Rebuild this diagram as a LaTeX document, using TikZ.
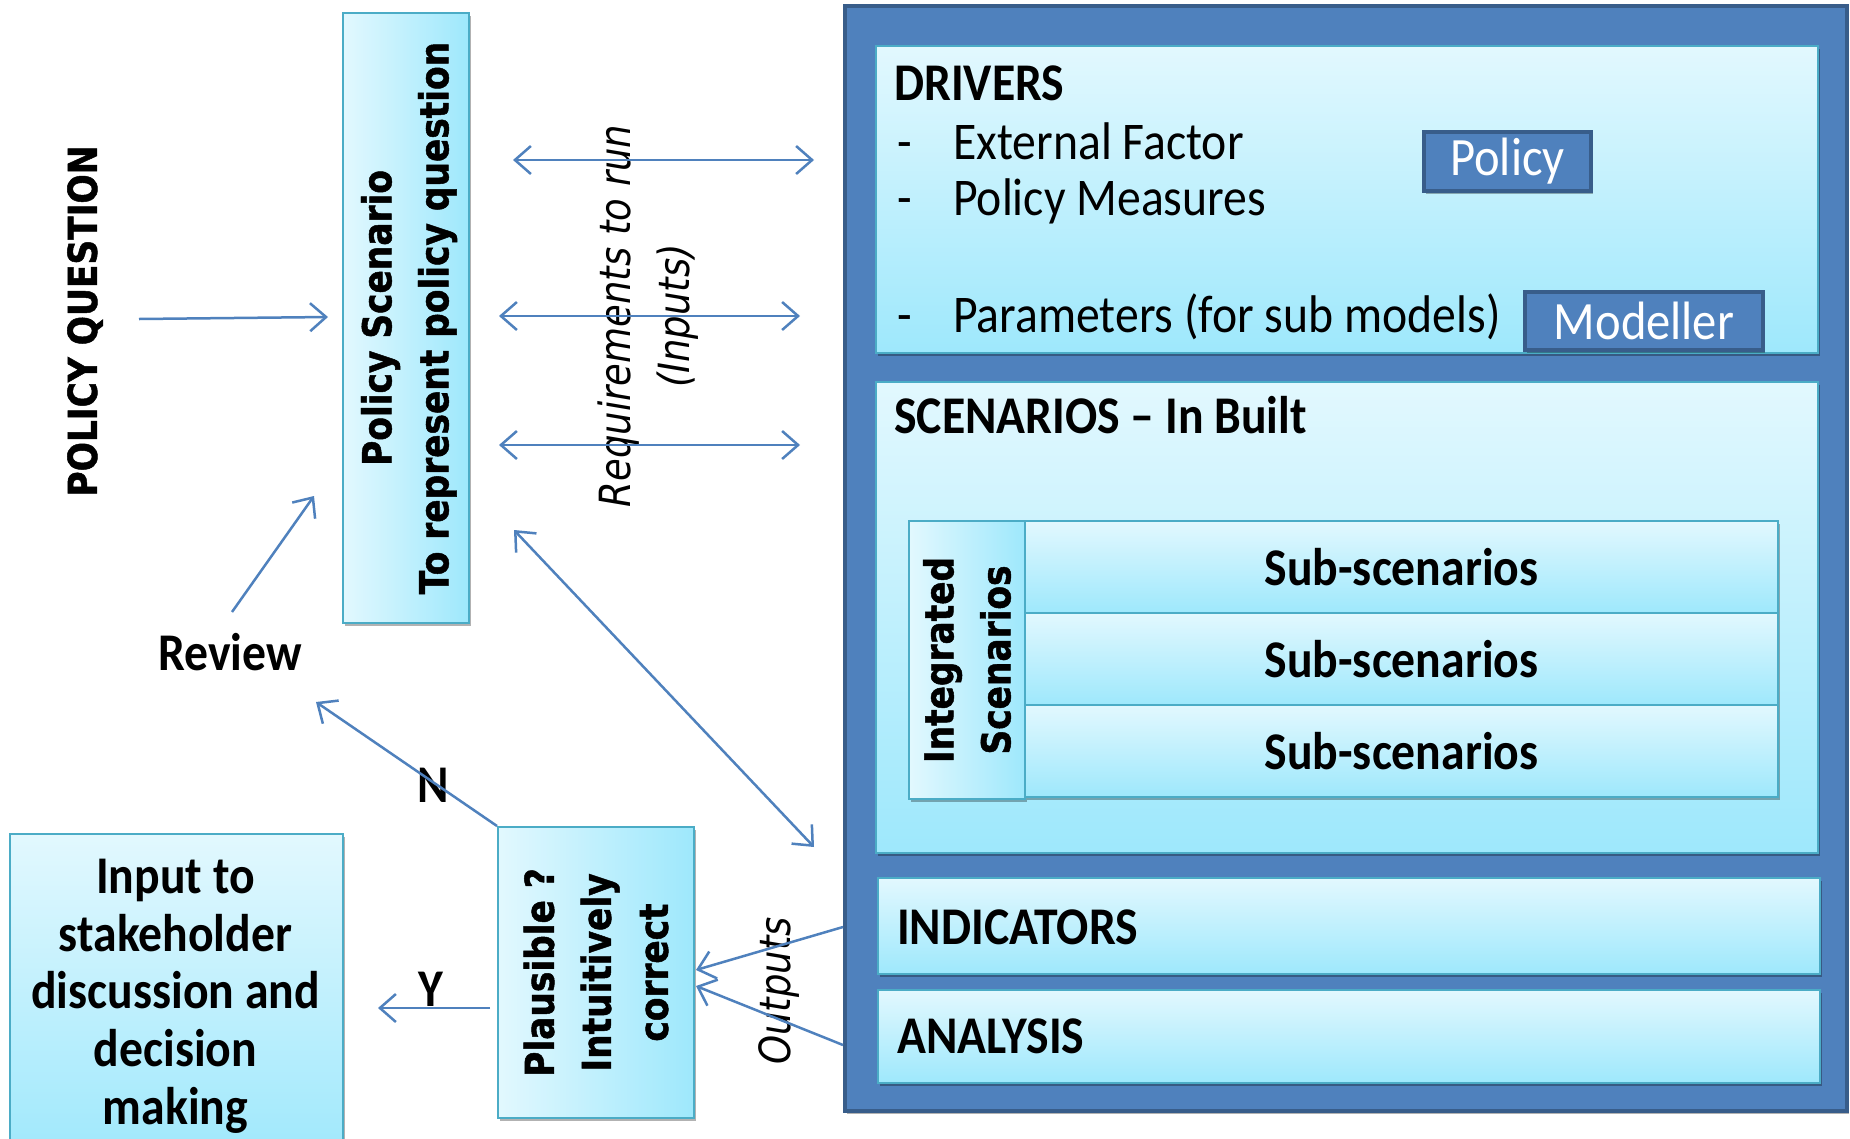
\documentclass[tikz,border=0pt]{standalone}
\usepackage{fontspec}
\setmainfont{Carlito}
\newfontfamily\calf[FakeStretch=0.9]{Carlito}
\newfontfamily\verf[FakeStretch=0.86]{DejaVu Sans}
\newfontfamily\verbf[FakeStretch=0.86,FakeBold=1.2]{DejaVu Sans Bold}
\usetikzlibrary{arrows.meta,shadows}
\definecolor{oblue}{RGB}{79,129,189}
\definecolor{oborder}{RGB}{56,93,138}
\definecolor{ltop}{RGB}{226,248,254}
\definecolor{lbot}{RGB}{158,232,252}
\definecolor{lborder}{RGB}{75,172,198}
\begin{document}
\begin{tikzpicture}[x=1pt,y=-1pt,
  shad/.style={drop shadow={shadow xshift=2pt,shadow yshift=-3pt,opacity=0.3,fill=black}},
  vbox/.style={draw=lborder,line width=2pt,top color=ltop,bottom color=lbot,inner sep=0pt,anchor=north west,shad},
  hbox/.style={draw=lborder,line width=2pt,left color=ltop,right color=lbot,inner sep=0pt,anchor=north west,shad},
  bluebox/.style={draw=oborder,line width=4pt,fill=oblue,inner sep=0pt,anchor=north west,text=white,font=\calf\fontsize{54}{58}\selectfont,shad},
  cal/.style={font=\calf\fontsize{53}{58}\selectfont,inner sep=0pt},
  calb/.style={font=\calf\bfseries\fontsize{53}{58}\selectfont,inner sep=0pt},
  verb/.style={font=\verbf\fontsize{40}{57}\selectfont,inner sep=0pt,rotate=90,align=center},
  veri/.style={font=\verf\itshape\fontsize{43}{59}\selectfont,inner sep=0pt,rotate=90,align=center},
  conn/.style={draw=oblue,line width=2.5pt,-{Straight Barb[length=16pt,width=28pt]}},
  dconn/.style={draw=oblue,line width=2.5pt,{Straight Barb[length=16pt,width=28pt]}-{Straight Barb[length=16pt,width=28pt]}},
]
\useasboundingbox (0,0) rectangle (1850,1138);
\fill[white] (0,0) rectangle (1850,1138);

% ---------- right: model ----------
\node[draw=oborder,line width=4pt,fill=oblue,anchor=north west,minimum width=1002pt,minimum height=1105pt,inner sep=0pt,shad] (outer) at (843,4) {};

\node[vbox,minimum width=942pt,minimum height=307pt] (drivers) at (875,45) {};
\node[calb,anchor=base west] (drvt) at (894,100) {DRIVERS};
\node[cal,anchor=base west] (d1) at (897,159) {-};
\node[cal,anchor=base west] (ext) at (953,159) {External Factor};
\node[cal,anchor=base west] (d2) at (897,215) {-};
\node[cal,anchor=base west] (pm) at (953,215) {Policy Measures};
\node[cal,anchor=base west] (d3) at (897,332) {-};
\node[cal,anchor=base west] (par) at (953,332) {Parameters (for sub models)};
\node[bluebox,minimum width=167pt,minimum height=59pt] (policy) at (1422,130) {Policy};
\node[bluebox,minimum width=238pt,minimum height=58pt] (modeller) at (1523,290) {Modeller};

\node[vbox,minimum width=942pt,minimum height=471pt] (scen) at (875,381) {};
\node[calb,anchor=base west] (scent) at (894,433) {SCENARIOS – In Built};
\node[hbox,minimum width=116pt,minimum height=278pt] (integ) at (908,520) {};
\node[verb] (integt) at (integ.center) {Integrated\\Scenarios};
\node[vbox,calb,minimum width=753pt,minimum height=92pt] (sub1) at (1024,520) {Sub-scenarios};
\node[vbox,calb,minimum width=753pt,minimum height=92pt] (sub2) at (1024,612) {Sub-scenarios};
\node[vbox,calb,minimum width=753pt,minimum height=92pt] (sub3) at (1024,704) {Sub-scenarios};

\node[vbox,minimum width=942pt,minimum height=96pt] (ind) at (877,877) {};
\node[calb,anchor=base west] (indt) at (897,944) {INDICATORS};
\node[vbox,minimum width=942pt,minimum height=93pt] (ana) at (877,989) {};
\node[calb,anchor=base west] (anat) at (897,1053) {ANALYSIS};

% ---------- left ----------
\node[verb] (pq) at (85,321) {POLICY QUESTION};
\node[hbox,minimum width=126pt,minimum height=610pt] (ps) at (342,12) {};
\node[verb] (pst) at ([xshift=3pt]ps.center) {Policy Scenario\\To represent policy question};
\node[veri] (req) at (648,316) {Requirements to run\\(Inputs)};

\node[calb] (review) at (230,652) {Review};
\node[hbox,minimum width=196pt,minimum height=291pt] (pl) at (497,826) {};
\node[verb] (plt) at (pl.center) {Plausible ?\\Intuitively\\correct};
\node[vbox,minimum width=333pt,minimum height=330pt] (inp) at (9,833) {};
\node[calb,align=center,font=\calf\bfseries\fontsize{53}{57.7}\selectfont] (inpt) at (175.5,996) {Input to\\stakeholder\\discussion and\\decision\\making};
\node[calb] (nlab) at (433,785) {N};
\node[calb] (ylab) at (431,989) {Y};
\node[veri] (outt) at (779,991) {Outputs};

% ---------- connectors ----------
\coordinate (pqa) at (139,319);  \coordinate (pqb) at (328,317);
\draw[conn] (pqa) -- (pqb);
\coordinate (r1a) at (513,160);  \coordinate (r1b) at (814,160);
\coordinate (r2a) at (499,316);  \coordinate (r2b) at (800,316);
\coordinate (r3a) at (499,445);  \coordinate (r3b) at (800,445);
\draw[dconn] (r1a) -- (r1b);
\draw[dconn] (r2a) -- (r2b);
\draw[dconn] (r3a) -- (r3b);
\coordinate (dga) at (514,530);  \coordinate (dgb) at (814,847);
\draw[dconn] (dga) -- (dgb);
\coordinate (rva) at (232,612);  \coordinate (rvb) at (314,496);
\draw[conn] (rva) -- (rvb);
\coordinate (nb) at (316,702);
\draw[conn] (pl.north west) -- (nb);
\coordinate (ya) at (490,1008);  \coordinate (yb) at (378,1008);
\draw[conn] (ya) -- (yb);
\coordinate (o1a) at (843,927);  \coordinate (o1b) at (696,970);
\coordinate (o2a) at (843,1045); \coordinate (o2b) at (696,986);
\draw[conn] (o1a) -- (o1b);
\draw[conn] (o2a) -- (o2b);
\end{tikzpicture}
\end{document}
